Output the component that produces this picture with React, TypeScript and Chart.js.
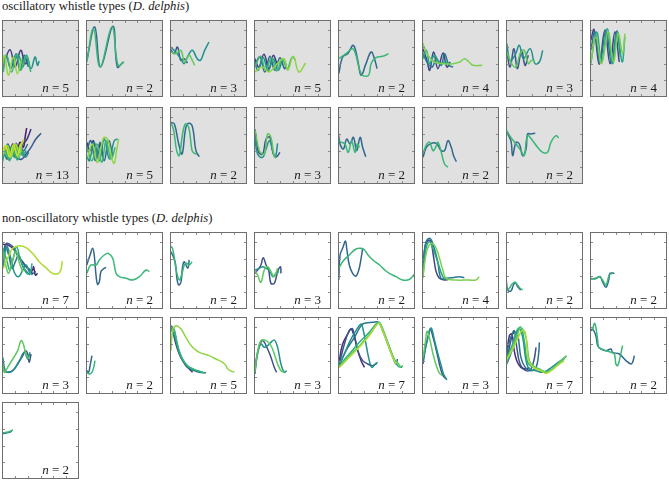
import React, { useEffect, useRef } from "react";
import { Chart, registerables } from "chart.js";
Chart.register(...registerables);

type Pt = [number, number];
type Contour = Pt[];

// time (s) / frequency (kHz) contours, one array per whistle type
const osc01: Contour[] = [
  [[0.03,9],[0.31,14.2],[0.51,9],[0.73,14],[0.9,10],[1.03,11.5]],
  [[0,7],[0.16,12.5],[0.34,8.5],[0.55,13],[0.7,8],[0.86,12.5],[1.03,9]],
  [[0.44,10],[0.64,12.5],[0.81,9],[0.96,12.5],[1.13,8.5],[1.29,12],[1.38,9.5],[1.45,10.8]],
  [[0.05,7.5],[0.18,12.5],[0.38,7.5],[0.57,13],[0.73,8],[0.94,12.5],[1.12,7.5]],
  [[0,8],[0.1,12.5],[0.25,6.5],[0.44,12],[0.6,7],[0.77,11.5]],
];
const osc02: Contour[] = [
  [[0.03,11],[0.34,21],[0.57,9],[1.05,21.2],[1.22,9],[1.45,10.5]],
  [[0.03,10.5],[0.29,20.5],[0.55,9],[1.01,21],[1.25,9.5],[1.48,10.5]],
];
const osc03: Contour[] = [
  [[0.03,14.2],[0.16,13],[0.29,15],[0.42,11],[0.55,11.5],[0.68,10.2]],
  [[0.03,15],[0.22,13.5],[0.42,11.5],[0.55,10],[0.68,12],[0.87,14],[1.06,11.5],[1.19,11],[1.35,14],[1.52,16.5]],
  [[0.03,13.5],[0.22,13],[0.42,14],[0.57,10.5],[0.74,12.5],[0.87,11],[0.96,9.5]],
];
const osc04: Contour[] = [
  [[0.03,11.5],[0.19,9],[0.39,12.8],[0.58,8.5],[0.75,12.5],[0.91,9.5]],
  [[0.03,9.5],[0.23,12],[0.42,7.5],[0.62,12.2],[0.81,8],[1.01,11.8],[1.19,8.5],[1.27,10]],
  [[0.03,10.5],[0.16,8],[0.36,11.8],[0.55,7.8],[0.75,11.5],[0.94,8],[1.1,11]],
  [[0.03,9],[0.26,12.2],[0.45,8],[0.68,11.8],[0.88,7.8],[1.1,11.5],[1.29,8.5],[1.49,12],[1.62,11]],
  [[0.03,7.5],[0.32,9],[0.58,7.5],[0.91,10],[1.17,11.5],[1.32,8],[1.53,12.2],[1.75,7.5],[2.01,10.2]],
];
const osc05: Contour[] = [
  [[0.03,7],[0.18,12],[0.38,13],[0.6,15.5],[0.77,11],[0.9,6.5],[1.09,10],[1.29,13.5],[1.42,11.5],[1.52,8.5]],
  [[0.03,11.5],[0.31,13],[0.57,14.5],[0.7,12.5],[0.83,8.5],[0.96,6.5],[1.19,6.5],[1.29,10],[1.48,11.8],[1.74,12.2],[1.97,13]],
];
const osc06: Contour[] = [
  [[0.04,14.5],[0.19,11],[0.3,8],[0.45,13.5],[0.62,8.5],[0.82,13.2],[0.97,9],[1.1,10.5]],
  [[0.04,13],[0.23,10],[0.4,9],[0.56,11.5],[0.75,9.5],[0.88,13],[1.05,9.5],[1.21,9]],
  [[0.04,11.5],[0.17,14],[0.3,10],[0.49,12.5],[0.69,10],[0.88,10.5],[1.08,10]],
  [[0.01,16.5],[0.23,12.5],[0.49,10.5],[0.82,10],[1.21,10],[1.47,10.5],[1.66,11.5],[1.83,10.5],[1.99,9.5],[2.35,9.5]],
];
const osc07: Contour[] = [
  [[0.03,14],[0.16,9],[0.31,14.5],[0.44,8.5],[0.61,14],[0.74,9.5],[0.87,12.5]],
  [[0.03,16],[0.16,11],[0.35,12.5],[0.52,15.5],[0.68,11.5],[0.94,14.5],[1.13,10],[1.3,10.5],[1.43,14]],
  [[0.03,13.5],[0.22,10],[0.39,9],[0.55,13],[0.71,14],[0.87,10],[1.0,11],[1.13,10.5]],
];
const osc08: Contour[] = [
  [[0.03,17],[0.16,20.2],[0.36,9.8],[0.58,20],[0.78,10],[0.97,19.5],[1.14,10.5]],
  [[0.03,14],[0.19,19.5],[0.39,10.5],[0.62,20.2],[0.84,10.2],[1.04,19.8],[1.19,12]],
  [[0.03,10],[0.26,19.5],[0.45,10.5],[0.68,20.5],[0.88,10],[1.06,19.5],[1.25,10.5],[1.36,18]],
  [[0.03,10.5],[0.23,18],[0.45,10],[0.71,19.5],[0.91,10.5],[1.1,19],[1.27,13],[1.36,19]],
];
const osc09: Contour[] = [
  [[0.03,9],[0.16,11.5],[0.29,8.5],[0.42,12],[0.57,9],[0.7,12.5],[0.83,11],[0.91,14.5],[0.96,16.8]],
  [[0.03,8],[0.18,11],[0.34,7.8],[0.49,11.5],[0.65,8.2],[0.81,12],[0.94,13],[1.06,15],[1.13,16.5]],
  [[0.05,10],[0.21,7.5],[0.36,11],[0.52,8],[0.68,11],[0.83,10]],
  [[0.03,7.5],[0.16,10.5],[0.31,7.5],[0.47,11],[0.62,7.8],[0.78,7.5],[0.94,9],[1.13,11],[1.32,13.5],[1.52,15.2]],
  [[0.08,9],[0.23,12],[0.39,8.5],[0.55,12.2],[0.7,9],[0.86,10],[1.0,12]],
  [[0,6.5],[0.13,10],[0.29,7.2],[0.44,10.5],[0.6,7.5],[0.75,10.2],[0.91,8],[1.04,9.5]],
  [[0,8.5],[0.16,11.2],[0.31,8.2],[0.47,11.2],[0.62,8.5],[0.78,11]],
  [[0.03,10],[0.18,8],[0.34,11],[0.49,8],[0.65,11],[0.81,8.5],[0.94,10]],
  [[0,6],[0.13,10],[0.29,7],[0.44,10],[0.6,7.2],[0.75,10],[0.88,9]],
  [[0.03,8.5],[0.18,11.5],[0.34,8],[0.49,11.8],[0.65,8.5],[0.78,11]],
  [[0,8],[0.16,11],[0.31,7.8],[0.47,11],[0.62,8],[0.75,10]],
  [[0.05,9.2],[0.21,11.5],[0.36,8.2],[0.52,12],[0.68,9.5],[0.81,13],[0.87,13.2]],
  [[0,9],[0.13,11.5],[0.29,8.2],[0.44,11.8],[0.6,8.5],[0.73,12],[0.83,12.5]],
];
const osc10: Contour[] = [
  [[0.03,12.5],[0.16,10],[0.29,13],[0.42,8],[0.55,12],[0.65,9]],
  [[0.03,10],[0.19,13],[0.36,7],[0.55,12.5],[0.71,7],[0.88,13],[1.04,8.5]],
  [[0.03,8.5],[0.13,7],[0.32,12.5],[0.52,7],[0.71,13.5],[0.91,7.5],[1.1,13],[1.23,13.5]],
  [[0.03,11],[0.23,7],[0.42,12],[0.62,6.5],[0.78,13],[0.97,7.5],[1.14,11]],
  [[0.06,8],[0.26,12],[0.45,6.5],[0.68,13.8],[0.84,13.5],[1.01,7.5],[1.1,6.2],[1.19,10],[1.27,13.5]],
];
const osc11: Contour[] = [
  [[0.03,18.5],[0.17,18],[0.34,12],[0.47,9],[0.62,17],[0.75,18.2],[0.88,17],[1.01,10],[1.14,8.2]],
  [[0,18.8],[0.13,16.5],[0.26,10],[0.36,8.5],[0.49,15],[0.6,18],[0.73,17],[0.86,10],[0.95,9.2],[1.05,9]],
];
const osc12: Contour[] = [
  [[0.03,16.5],[0.18,9.5],[0.34,9],[0.47,13.5],[0.62,14],[0.75,9],[0.88,8.2],[1.01,9.5]],
  [[0.03,14],[0.14,9],[0.34,8],[0.47,10.5],[0.6,13],[0.73,10],[0.83,8],[0.92,12.2]],
  [[0.05,16],[0.21,10],[0.4,9],[0.53,15],[0.66,14],[0.79,8.2],[0.86,7.8]],
];
const osc13: Contour[] = [
  [[0.01,15.5],[0.08,12],[0.21,10.5],[0.34,13.5],[0.47,12],[0.6,14],[0.73,10],[0.86,14],[0.96,11],[1.08,8.2]],
  [[0.01,13],[0.14,12.5],[0.27,12],[0.4,9.5],[0.53,13],[0.66,9.5],[0.75,12],[0.83,11]],
];
const osc14: Contour[] = [
  [[0.04,8],[0.17,11],[0.36,12.2],[0.56,12.2],[0.75,10],[0.88,10],[1.01,13],[1.14,11],[1.23,8.5],[1.34,6.7]],
  [[0.04,9.2],[0.19,12],[0.3,12.5],[0.43,10],[0.53,11],[0.62,12.5],[0.75,9.5],[0.88,6],[1.01,5]],
];
const osc15: Contour[] = [
  [[0.03,15.5],[0.19,13],[0.26,8.5],[0.39,12.5],[0.52,12],[0.65,8.5],[0.78,10.5],[0.84,15],[0.97,15],[1.14,15.2]],
  [[0.03,16],[0.19,14],[0.39,12],[0.58,10],[0.71,8.5],[0.84,14.5],[1.04,13],[1.23,11],[1.43,9.5],[1.62,9.5],[1.75,12.5],[1.95,14.5],[2.05,13.8]],
];

const non01: Contour[] = [
  [[0.03,19.4],[0.22,19.2],[0.42,18.2],[0.61,16.2],[0.81,14],[1.0,12.2],[1.17,11.4],[1.23,12.7],[1.3,10.2],[1.39,10.7]],
  [[0.03,16.2],[0.16,19.6],[0.35,19.2],[0.52,17.7],[0.65,15.2],[0.78,14.4],[0.94,12.7],[1.09,11.7],[1.19,10.7],[1.32,11.2]],
  [[0.03,13.7],[0.13,18.7],[0.26,16.2],[0.39,12.2],[0.52,14.2],[0.65,16.2],[0.81,12.7],[0.96,11.2],[1.09,10.2]],
  [[0.03,12.2],[0.18,18.7],[0.31,16.2],[0.47,11.2],[0.65,9.7],[0.81,11.7],[0.94,13.2],[1.06,11.2],[1.19,10.2]],
  [[0.03,18.2],[0.18,14.7],[0.31,11.7],[0.44,15.2],[0.57,18.7],[0.7,15.2],[0.83,12.7],[0.96,10.7],[1.09,10.7],[1.17,13.7]],
  [[0.03,17.2],[0.13,13.7],[0.26,10.7],[0.39,14.2],[0.55,17.2],[0.68,13.7],[0.81,11.2]],
  [[0.05,12.2],[0.22,15.2],[0.42,18.2],[0.68,19],[0.94,18.4],[1.19,16.7],[1.45,14.2],[1.71,12.4],[1.97,10.7],[2.21,10.7],[2.31,12.2],[2.34,14.4]],
];
const non02: Contour[] = [
  [[0.03,13.2],[0.16,16.2],[0.26,18.2],[0.32,16.2],[0.39,10.2],[0.45,7.4],[0.52,8.2],[0.58,11.2],[0.68,12],[0.78,12.5]],
  [[0.03,10.7],[0.19,13.2],[0.39,13.2],[0.52,14.7],[0.71,16.2],[0.87,16.7],[1.04,15.2],[1.17,10.7],[1.3,9.7],[1.56,9.2],[1.82,8.7],[2.08,9.7],[2.34,11.7],[2.47,11.2]],
];
const non03: Contour[] = [
  [[0.03,17.2],[0.1,16.2],[0.21,13.7],[0.27,9.2],[0.34,7.2],[0.43,8.2],[0.49,12.7],[0.56,14.2],[0.69,12.2],[0.75,14.7]],
  [[0,19],[0.1,18.2],[0.23,12.2],[0.36,8.7],[0.47,10.7],[0.56,13.2],[0.65,13.7],[0.75,13.2],[0.86,14.2]],
];
const non04: Contour[] = [
  [[0.03,10.7],[0.14,11.7],[0.27,13.2],[0.36,15.4],[0.47,13.2],[0.57,11.7],[0.66,7.7],[0.79,7.7],[0.92,11.2],[1.03,12.7],[1.05,10.7]],
  [[0.03,11.7],[0.21,12.2],[0.34,12.7],[0.47,12.2],[0.6,11.7],[0.73,9.7],[0.86,10.7],[0.96,11.2]],
  [[0.03,11.7],[0.14,10.2],[0.27,8],[0.4,11.7],[0.53,12.7],[0.66,11.2],[0.79,9.7],[0.92,12.2]],
];
const non05: Contour[] = [
  [[0.03,8.7],[0.08,16.2],[0.18,18.2],[0.29,20.4],[0.34,18.2],[0.44,13.2],[0.57,10.7],[0.7,9.9],[0.81,11.7],[0.9,15.2],[0.96,18.2]],
  [[0.03,12.2],[0.18,14.2],[0.44,16.2],[0.7,18],[0.9,18.2],[1.03,17.7],[1.17,16.2],[1.36,14.7],[1.62,13.2],[1.82,11.7],[2.0,10.7],[2.26,9.7],[2.52,8.7],[2.71,8.7],[2.84,9.2],[2.97,10.4]],
];
const non06: Contour[] = [
  [[0.03,11.2],[0.13,19.2],[0.26,20.7],[0.35,20.2],[0.44,16.2],[0.55,11.2],[0.68,9.2],[0.87,8.7],[1.06,9]],
  [[0.03,13.2],[0.16,20.2],[0.31,21.2],[0.44,19.2],[0.61,14.2],[0.74,9.2],[0.94,9.2],[1.19,9.4],[1.45,9.7],[1.65,9.4]],
  [[0.03,9.7],[0.16,18.2],[0.29,20.2],[0.42,18.2],[0.61,14.2],[0.81,9.7],[1.0,8.7]],
  [[0.03,9.2],[0.18,17.2],[0.35,19.7],[0.52,18.7],[0.68,15.2],[0.81,11.7],[0.94,9.2],[1.32,8.7],[1.84,8.7],[2.1,8.7],[2.23,9.7]],
];
const non07: Contour[] = [
  [[0,10.2],[0.06,5.7],[0.19,5.4],[0.29,7.2],[0.36,8],[0.45,6.7],[0.58,5.7]],
  [[0,10.7],[0.03,5.7],[0.13,6.2],[0.23,7.4],[0.34,8],[0.45,7.2],[0.55,6.2],[0.65,5.7]],
];
const non08: Contour[] = [
  [[0.03,9],[0.23,9.2],[0.39,9.7],[0.49,8.2],[0.62,6.5],[0.73,8.7],[0.78,10.7],[0.95,10.7]],
  [[0.03,9.2],[0.21,9],[0.36,9.7],[0.49,8.7],[0.62,7.2],[0.75,10.2],[0.86,10.7]],
];
const non09: Contour[] = [
  [[0.03,10],[0.09,7],[0.22,6.5],[0.42,7],[0.61,9],[0.81,11.5],[0.91,13],[1.0,12],[1.06,9.5],[1.13,12]],
  [[0.03,11],[0.13,7],[0.29,6.5],[0.48,7.5],[0.68,10],[0.87,12.5],[1.0,10.5],[1.09,12.5]],
  [[0.03,9],[0.09,6.5],[0.22,8],[0.42,10.5],[0.61,13],[0.74,16],[0.83,15],[0.91,12.5],[1.0,11],[1.09,10.5]],
];
const non10: Contour[] = [
  [[0.03,7],[0.1,6.5],[0.16,8.5],[0.23,11.5]],
  [[0.03,6.5],[0.13,6],[0.23,6.5],[0.3,8],[0.35,10]],
];
const non11: Contour[] = [
  [[0.04,20],[0.13,18],[0.23,15],[0.36,12],[0.49,10],[0.62,8.5],[0.75,7.5],[0.88,6.5]],
  [[0.04,20.5],[0.17,19],[0.26,15.5],[0.36,12.5],[0.52,10],[0.69,8],[0.88,7.2],[1.14,6.5],[1.4,6.4]],
  [[0.04,19.5],[0.17,17.5],[0.3,14],[0.43,11],[0.6,9],[0.78,7.8],[1.01,7],[1.27,6.5]],
  [[0.04,19],[0.13,20],[0.23,17],[0.36,13],[0.49,10.5],[0.65,8.8],[0.82,7.8],[1.08,7],[1.34,6.4]],
  [[0.04,13],[0.1,19],[0.23,20.5],[0.43,19.5],[0.62,17],[0.88,14],[1.14,12.5],[1.53,11.5],[1.79,10.5],[2.05,9.5],[2.18,8.5],[2.25,7.5],[2.44,6.7],[2.51,6.7]],
];
const non12: Contour[] = [
  [[0.03,6],[0.1,11],[0.21,14.5],[0.34,16],[0.53,13.5],[0.66,11],[0.79,8],[0.88,6.5]],
  [[0.03,6],[0.14,12],[0.27,15],[0.4,14],[0.53,14.5],[0.66,15.5],[0.79,16.2],[0.92,14],[1.05,9],[1.18,6.5],[1.27,7]],
  [[0.03,6.5],[0.14,12.5],[0.27,16],[0.47,16],[0.66,14.5],[0.79,12],[0.92,9],[1.05,7],[1.18,6.5]],
];
const non13: Contour[] = [
  [[0.05,10],[0.18,15],[0.38,18],[0.51,19.5],[0.64,17],[0.77,13],[0.9,10],[1.03,8]],
  [[0.05,9],[0.25,15],[0.44,19],[0.57,19.5],[0.77,13],[0.96,10],[1.16,9],[1.35,8.5],[1.51,9.2]],
  [[0.05,8.5],[0.31,13],[0.64,17],[0.9,20.5],[1.03,21.2],[1.35,21.5],[1.58,21.5],[1.74,19],[1.94,15],[2.06,12.5],[2.19,10],[2.26,9],[2.32,10.5]],
  [[0.05,9],[0.25,12],[0.44,15.5],[0.7,19],[0.9,21],[0.96,20],[1.09,15],[1.22,10],[1.32,8],[1.45,9],[1.55,9.5]],
  [[0.05,8.5],[0.44,12],[0.83,15.5],[1.22,18.5],[1.48,21],[1.61,21.5],[1.74,19.5],[1.94,15.5],[2.13,11.5],[2.32,8.5],[2.45,8],[2.52,8.5]],
  [[0.03,8],[0.44,11.5],[0.9,15],[1.29,18.5],[1.55,21.2],[1.64,21.2],[1.81,18],[2.0,14],[2.19,10.5],[2.36,9],[2.45,8]],
  [[0.03,7.8],[0.44,11],[0.83,14],[1.22,17.5],[1.48,20.5],[1.61,21.2],[1.74,19],[1.94,15],[2.13,11],[2.26,9]],
];
const non14: Contour[] = [
  [[0.04,9],[0.14,14],[0.23,17],[0.32,19.5],[0.43,17],[0.53,14],[0.62,11],[0.71,8],[0.82,5.5],[0.95,4.5]],
  [[0.04,10],[0.17,15],[0.27,18],[0.36,19.8],[0.49,16],[0.62,12],[0.75,8.5],[0.84,6],[0.97,4.2]],
  [[0.04,11],[0.14,16],[0.19,18.8],[0.3,16.5],[0.43,12],[0.56,8.5],[0.66,6.5],[0.79,5.5]],
];
const non15: Contour[] = [
  [[0.03,11.5],[0.13,17.5],[0.23,18],[0.32,13],[0.42,10],[0.58,8],[0.78,7.5],[0.91,8]],
  [[0.03,10],[0.19,16],[0.32,19],[0.42,14],[0.55,9],[0.78,7],[0.97,7.5],[1.1,10.5],[1.17,14]],
  [[0.03,12],[0.16,16.5],[0.32,18.5],[0.45,18],[0.58,11],[0.75,8],[0.97,7],[1.17,8],[1.27,12],[1.3,15.5]],
  [[0.03,9],[0.23,13],[0.39,17.5],[0.52,19.5],[0.65,17],[0.78,10],[0.91,7.5],[1.17,7],[1.43,6.5],[1.69,7.5],[1.95,9],[2.21,10.5],[2.34,11.2]],
  [[0.03,11],[0.26,15],[0.42,19],[0.58,20],[0.71,16],[0.84,9.5],[1.04,8],[1.3,7.5],[1.49,6.5],[1.75,7.2],[2.01,8.8],[2.27,10.5]],
  [[0.03,10],[0.26,14],[0.45,18],[0.58,20],[0.78,17],[0.91,10],[1.1,8.2],[1.43,7],[1.62,6.5],[1.82,7.5],[2.08,9.5],[2.36,11.5]],
  [[0.03,10.5],[0.23,13],[0.45,16.5],[0.62,19],[0.75,18.5],[0.88,10],[1.06,8],[1.36,7],[1.56,6.2],[1.79,7.2],[2.08,9],[2.27,10]],
];
const non16: Contour[] = [
  [[0.04,19],[0.1,19.5],[0.23,17.5],[0.3,14.5],[0.43,13.5],[0.62,13],[0.82,13.5],[0.88,12.5],[1.14,12],[1.4,10],[1.6,9],[1.66,9.5],[1.73,11.5]],
  [[0.1,19],[0.17,21.2],[0.23,20],[0.3,16],[0.34,14],[0.43,13.5],[0.62,13],[0.82,12.5],[0.95,12],[1.01,9],[1.08,8.5],[1.17,11],[1.27,14.5]],
];
const non17: Contour[] = [
  [[0,13.6],[0.16,13.8],[0.29,14],[0.39,14.5]],
  [[0,13.8],[0.18,14],[0.35,14.4],[0.42,14.8]],
];

const oscRows: Contour[][][] = [
  [osc01, osc02, osc03, osc04, osc05, osc06, osc07, osc08],
  [osc09, osc10, osc11, osc12, osc13, osc14, osc15],
];
const nonRows: Contour[][][] = [
  [non01, non02, non03, non04, non05, non06, non07, non08],
  [non09, non10, non11, non12, non13, non14, non15, non16],
  [non17],
];

const TIME_MAX = 3;
const FREQ_MAX = 23.1;
const timeTicks = [0.5, 1, 1.5, 2, 2.5];
const freqTicks = [5, 10, 15, 20];

// layout
const PANEL = 77;
const colLeft = [2, 86, 170, 254, 338, 422, 506, 590];
const oscRowTop = [20, 107];
const nonRowTop = [232, 317, 402];

const VIRIDIS = [
  "#440154", "#482475", "#414487", "#355f8d", "#2a788e", "#21918c",
  "#22a884", "#44bf70", "#7ad151", "#bddf26", "#fde725",
];
function hex(c: string) {
  return [parseInt(c.slice(1, 3), 16), parseInt(c.slice(3, 5), 16), parseInt(c.slice(5, 7), 16)];
}
function viridis(t: number) {
  const p = Math.max(0, Math.min(1, t)) * 10;
  const i = Math.min(9, Math.floor(p));
  const f = p - i;
  const a = hex(VIRIDIS[i]);
  const b = hex(VIRIDIS[i + 1]);
  const c = a.map((v, k) => Math.round(v + (b[k] - v) * f));
  return `rgb(${c[0]},${c[1]},${c[2]})`;
}

const FONT = '"Liberation Serif", "Times New Roman", serif';

function Panel({ contours, gray, left, top }: { contours: Contour[]; gray: boolean; left: number; top: number }) {
  const ref = useRef<HTMLCanvasElement>(null);
  const n = contours.length;
  useEffect(() => {
    const frame = {
      id: "frame",
      beforeDatasetsDraw(chart: any) {
        const { ctx, chartArea } = chart;
        if (gray) {
          ctx.save();
          ctx.fillStyle = "#e0e0e0";
          ctx.fillRect(chartArea.left, chartArea.top, chartArea.right - chartArea.left, chartArea.bottom - chartArea.top);
          ctx.restore();
        }
      },
      afterDraw(chart: any) {
        const { ctx, chartArea } = chart;
        const xs = chart.scales.x;
        const ys = chart.scales.y;
        const L = chartArea.left, R = chartArea.right, T = chartArea.top, B = chartArea.bottom;
        ctx.save();
        ctx.strokeStyle = "#8a8a8a";
        ctx.lineWidth = 1;
        ctx.beginPath();
        const tl = 3;
        timeTicks.forEach((v) => {
          const px = Math.round(xs.getPixelForValue(v)) + 0.5;
          ctx.moveTo(px, T); ctx.lineTo(px, T + tl);
          ctx.moveTo(px, B); ctx.lineTo(px, B - tl);
        });
        freqTicks.forEach((v) => {
          const py = Math.round(ys.getPixelForValue(v)) + 0.5;
          ctx.moveTo(L, py); ctx.lineTo(L + tl, py);
          ctx.moveTo(R, py); ctx.lineTo(R - tl, py);
        });
        ctx.stroke();
        ctx.strokeStyle = "#6e6e6e";
        ctx.strokeRect(L + 0.5, T + 0.5, R - L - 1, B - T - 1);
        ctx.restore();
      },
    };
    const chart = new Chart(ref.current!, {
      type: "line",
      data: {
        datasets: contours.map((c, i) => ({
          data: c.map(([x, y]) => ({ x, y })),
          borderColor: viridis((i + 1) / (n + 1)),
          borderWidth: 1.5,
          pointRadius: 0,
          tension: 0.4,
          fill: false,
          order: -i,
        })),
      },
      options: {
        animation: false,
        responsive: false,
        events: [],
        layout: { padding: 0 },
        plugins: { legend: { display: false }, tooltip: { enabled: false } },
        scales: {
          x: { type: "linear", min: 0, max: TIME_MAX, display: false },
          y: { type: "linear", min: 0, max: FREQ_MAX, display: false },
        },
      },
      plugins: [frame],
    } as any);
    return () => chart.destroy();
  }, []);
  return (
    <div style={{ position: "absolute", left, top, width: PANEL, height: PANEL }}>
      <canvas ref={ref} width={PANEL} height={PANEL} style={{ display: "block" }} />
      <div
        style={{
          position: "absolute",
          right: 10,
          top: 61,
          fontFamily: FONT,
          fontSize: 13,
          lineHeight: "13px",
          color: "#1a1a1a",
          whiteSpace: "nowrap",
        }}
      >
        <i>n</i> = {n}
      </div>
    </div>
  );
}

export default function App() {
  const titleStyle: React.CSSProperties = {
    position: "absolute",
    left: 2,
    fontFamily: FONT,
    fontSize: 12.7,
    lineHeight: "13px",
    color: "#1a1a1a",
    whiteSpace: "nowrap",
  };
  return (
    <div style={{ position: "absolute", left: 0, top: 0, width: 669, height: 480, background: "#fff", overflow: "hidden" }}>
      <div style={{ ...titleStyle, top: 0 }}>
        oscillatory whistle types (<i>D. delphis</i>)
      </div>
      <div style={{ ...titleStyle, top: 212 }}>
        non-oscillatory whistle types (<i>D. delphis</i>)
      </div>
      {oscRows.map((row, r) =>
        row.map((p, c) => (
          <Panel key={`o${r}-${c}`} contours={p} gray={true} left={colLeft[c]} top={oscRowTop[r]} />
        ))
      )}
      {nonRows.map((row, r) =>
        row.map((p, c) => (
          <Panel key={`n${r}-${c}`} contours={p} gray={false} left={colLeft[c]} top={nonRowTop[r]} />
        ))
      )}
    </div>
  );
}
